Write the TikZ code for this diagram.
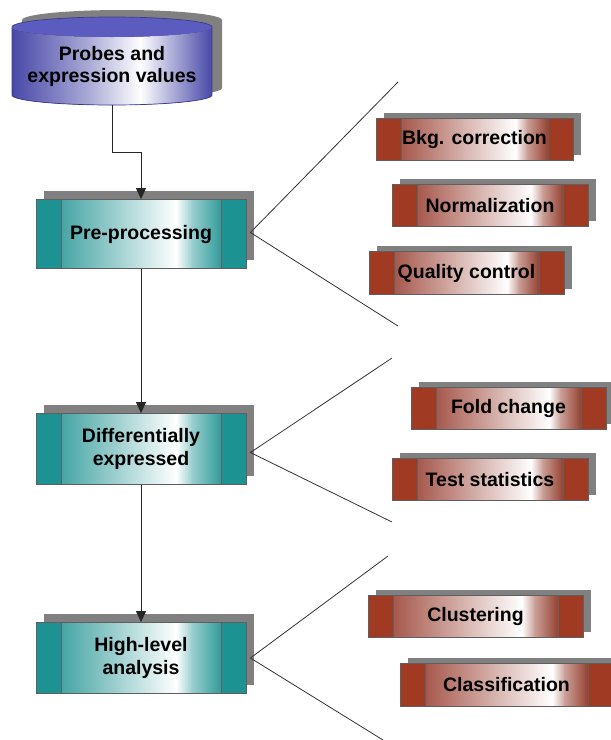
\documentclass[tikz,border=0pt]{standalone}
\usepackage{fontspec}
\setmainfont{Liberation Sans}
\usetikzlibrary{calc,arrows.meta}
\definecolor{shadowgray}{RGB}{128,128,128}
\definecolor{bordergray}{RGB}{95,95,95}
\definecolor{Tside}{RGB}{28,146,146}
\definecolor{TmidL}{RGB}{70,164,164}
\definecolor{TmidR}{RGB}{50,156,156}
\definecolor{Rside}{RGB}{160,58,34}
\definecolor{RmidL}{RGB}{166,88,76}
\definecolor{RmidR}{RGB}{150,66,50}
\definecolor{cylblue}{RGB}{72,72,168}
\definecolor{cyltop}{RGB}{92,92,192}
\definecolor{cylline}{RGB}{60,60,140}
\def\Tfrac{0.72}
\def\Rfrac{0.78}
\tikzset{
  boxnode/.style={draw=bordergray, line width=0.8pt, inner sep=0pt, align=center,
    font=\fontsize{19.5}{22.5}\selectfont\bfseries},
  dbnode/.style={inner sep=0pt, align=center, minimum width=200pt, minimum height=78pt,
    font=\fontsize{19.5}{22}\selectfont\bfseries},
  panel/.style={draw=bordergray, line width=0.8pt},
  flowarrow/.style={draw=black!85, line width=1pt, -{Triangle[length=11pt,width=10pt]}},
  fanline/.style={draw=black!80, line width=0.8pt}
}
% #1 name, #2 kind (T/R), #3 x1, #4 y1, #5 x2, #6 y2, #7 shadow dy, #8 text
\newcommand\FlowBox[8]{%
  \fill[shadowgray] (#3+8,#4-#7) rectangle (#5+8,#6-#7);
  \fill[#2side] (#3,#4) rectangle (#5,#6);
  \pgfmathsetmacro\FBa{#3+25}%
  \pgfmathsetmacro\FBb{#5-25}%
  \pgfmathsetmacro\FBw{\FBa+\csname #2frac\endcsname*(\FBb-\FBa)}%
  \pgfmathsetmacro\FBp{\FBa+0.55*(\FBw-\FBa)}%
  \pgfmathsetmacro\FBq{\FBw+0.35*(\FBb-\FBw)}%
  \fill[left color=#2midL, right color=#2midL!45!white] (\FBa,#4) rectangle (\FBp+0.5,#6);
  \fill[left color=#2midL!45!white, right color=white] (\FBp,#4) rectangle (\FBw+0.5,#6);
  \fill[left color=white, right color=#2midR!50!white] (\FBw,#4) rectangle (\FBq+0.5,#6);
  \fill[left color=#2midR!50!white, right color=#2midR] (\FBq,#4) rectangle (\FBb,#6);
  \draw[panel] (\FBa,#4) -- (\FBa,#6) (\FBb,#4) -- (\FBb,#6);
  \node[boxnode, minimum width={#5-#3}, minimum height={#6-#4}] (#1) at ({(#3+#5)/2},{(#4+#6)/2+0.5}) {#8};
}
\begin{document}
\begin{tikzpicture}[x=1pt,y=-1pt]
\useasboundingbox (0,0) rectangle (611,740);
% database cylinder shadow
\fill[shadowgray] (22,20) -- (22,88) arc[start angle=180,end angle=0,x radius=100,y radius=10]
  -- (222,20) arc[start angle=0,end angle=-180,x radius=100,y radius=10] -- cycle;
% database cylinder body
\begin{scope}
  \clip (12,27) -- (12,95) arc[start angle=180,end angle=0,x radius=100,y radius=10]
    -- (212,27) arc[start angle=0,end angle=180,x radius=100,y radius=10] -- cycle;
  \fill[left color=cylblue, right color=cylblue!45!white] (12,10) rectangle (90.5,110);
  \fill[left color=cylblue!45!white, right color=white] (90,10) rectangle (141,110);
  \fill[left color=white, right color=cylblue] (140,10) rectangle (212,110);
\end{scope}
\fill[cyltop] (112,27) ellipse[x radius=100,y radius=10];
\draw[cylline, line width=0.7pt] (12,27) -- (12,95) arc[start angle=180,end angle=0,x radius=100,y radius=10]
  -- (212,27) arc[start angle=0,end angle=-180,x radius=100,y radius=10];
\node[dbnode] (db) at (112,66) {Probes and\\expression values};
% main flow boxes
\FlowBox{pre}{T}{36}{199}{246}{268}{8}{Pre-processing}
\FlowBox{diff}{T}{36}{413}{246}{484}{8}{Differentially\\expressed}
\FlowBox{high}{T}{36}{622}{246}{693}{8}{High-level\\analysis}
% detail boxes
\FlowBox{bkg}{R}{376}{118}{573}{160}{5}{Bkg. correction}
\FlowBox{norm}{R}{392}{184}{588}{226}{5}{Normalization}
\FlowBox{qc}{R}{369}{251}{564}{294}{5}{Quality control}
\FlowBox{fold}{R}{411}{387}{606}{429}{5}{Fold change}
\FlowBox{test}{R}{392}{458}{588}{500}{5}{Test statistics}
\FlowBox{clus}{R}{368}{595}{583}{637}{5}{Clustering}
\FlowBox{class}{R}{400}{663}{613}{706}{5}{Classification}
% fan ends
\coordinate (f1a) at (398,82);
\coordinate (f1b) at (398,326);
\coordinate (f2a) at (392,358);
\coordinate (f2b) at (392,522);
\coordinate (f3a) at (388,556);
\coordinate (f3b) at (383,740);
\coordinate (bend) at (112,152);
\draw[fanline] (f1a) -- ($(pre.east)+(4,-1.5)$) -- (f1b);
\draw[fanline] (f2a) -- ($(diff.east)+(4,3.5)$) -- (f2b);
\draw[fanline] (f3a) -- ($(high.east)+(4,0)$) -- (f3b);
% flow arrows
\draw[flowarrow] (db.south) -- (bend) -| (pre.north);
\draw[flowarrow] (pre.south) -- (diff.north);
\draw[flowarrow] (diff.south) -- (high.north);
\end{tikzpicture}
\end{document}
